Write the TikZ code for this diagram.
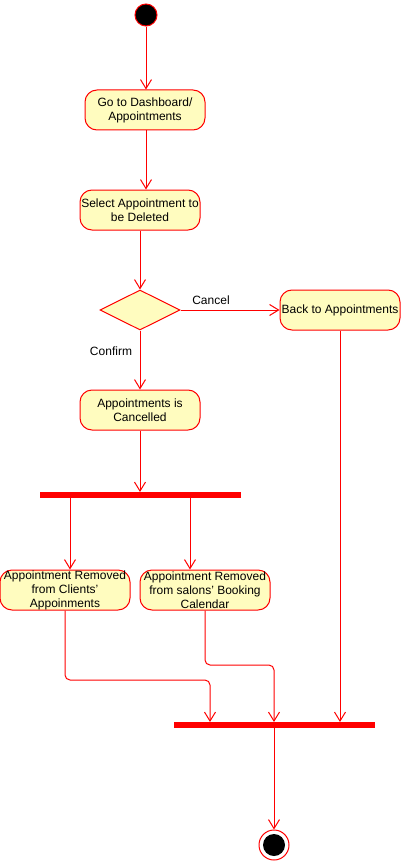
\documentclass[tikz,border=0pt]{standalone}
\usepackage{fontspec}
\setmainfont{Liberation Sans}
\usetikzlibrary{arrows.meta,shapes.geometric,positioning}

\begin{document}
\begin{tikzpicture}[x=1pt,y=-1pt,line width=1pt,font=\fontsize{12}{14}\selectfont,
act/.style={draw=red, fill=yellow!25, rounded corners=12pt, minimum width=120pt, minimum height=40pt, inner sep=0pt, align=center},
syncbar/.style={draw=red, fill=red, minimum width=200pt, minimum height=5pt, inner sep=0pt},
arr/.style={color=red, -{Straight Barb[length=9pt,width=11pt]}, rounded corners=5pt},
lbl/.style={inner sep=0pt}]
\useasboundingbox (0,0) rectangle (401,861);
\node[circle, draw=red, fill=black, minimum size=22pt, inner sep=0pt] (start) at (146,15) {};
\node[act] (dash) at (145,110) {Go to Dashboard/\\Appointments};
\node[act] (select) at (140,210) {Select Appointment to\\be Deleted};
\node[diamond, draw=red, fill=yellow!25, minimum width=80pt, minimum height=40pt, inner sep=0pt, aspect=2] (choice) at (140,310) {};
\node[act] (back) at (340,310) {Back to Appointments};
\node[act] (cancelled) at (140,410) {Appointments is\\Cancelled};
\node[syncbar] (fork) at (140,495) {};
\node[act, minimum width=130pt] (clients) at (65,590) {Appointment Removed\\from Clients'\\Appoinments};
\node[act, minimum width=130pt] (salons) at (205,590) {Appointment Removed\\from salons' Booking\\Calendar};
\node[syncbar] (join) at (274,725) {};
\node[circle, draw=red, minimum size=30pt, inner sep=0pt] (stop) at (274,845) {};
\node[circle, fill=black, minimum size=22pt, inner sep=0pt] (stopdot) at (stop) {};
% labels
\node[lbl] (cancellbl) at (211,300) {Cancel};
\node[lbl] (confirmlbl) at (111,351) {Confirm};
% flows
\draw[arr] ([yshift=-1pt]start.south) -- (start.south |- dash.north);
\draw[arr] (dash.south -| start) -- (start |- select.north);
\draw[arr] (select) -- (choice);
\draw[arr] (choice) -- (back);
\draw[arr] (choice) -- (cancelled);
\draw[arr] (cancelled) -- (fork);
\draw[arr] ([xshift=-70pt]fork.south) -- ([xshift=5pt]clients.north);
\draw[arr] ([xshift=50pt]fork.south) -- ([xshift=-15pt]salons.north);
\draw[arr] (clients.south) |- ([xshift=-64pt]join.north |- 0,680) -- ([xshift=-64pt]join.north);
\draw[arr] (salons.south) |- (join.north |- 0,665) -- (join.north);
\draw[arr] (back) -- (back |- join.north);
\draw[arr] (join.south) -- (stop.north);
\end{tikzpicture}
\end{document}
